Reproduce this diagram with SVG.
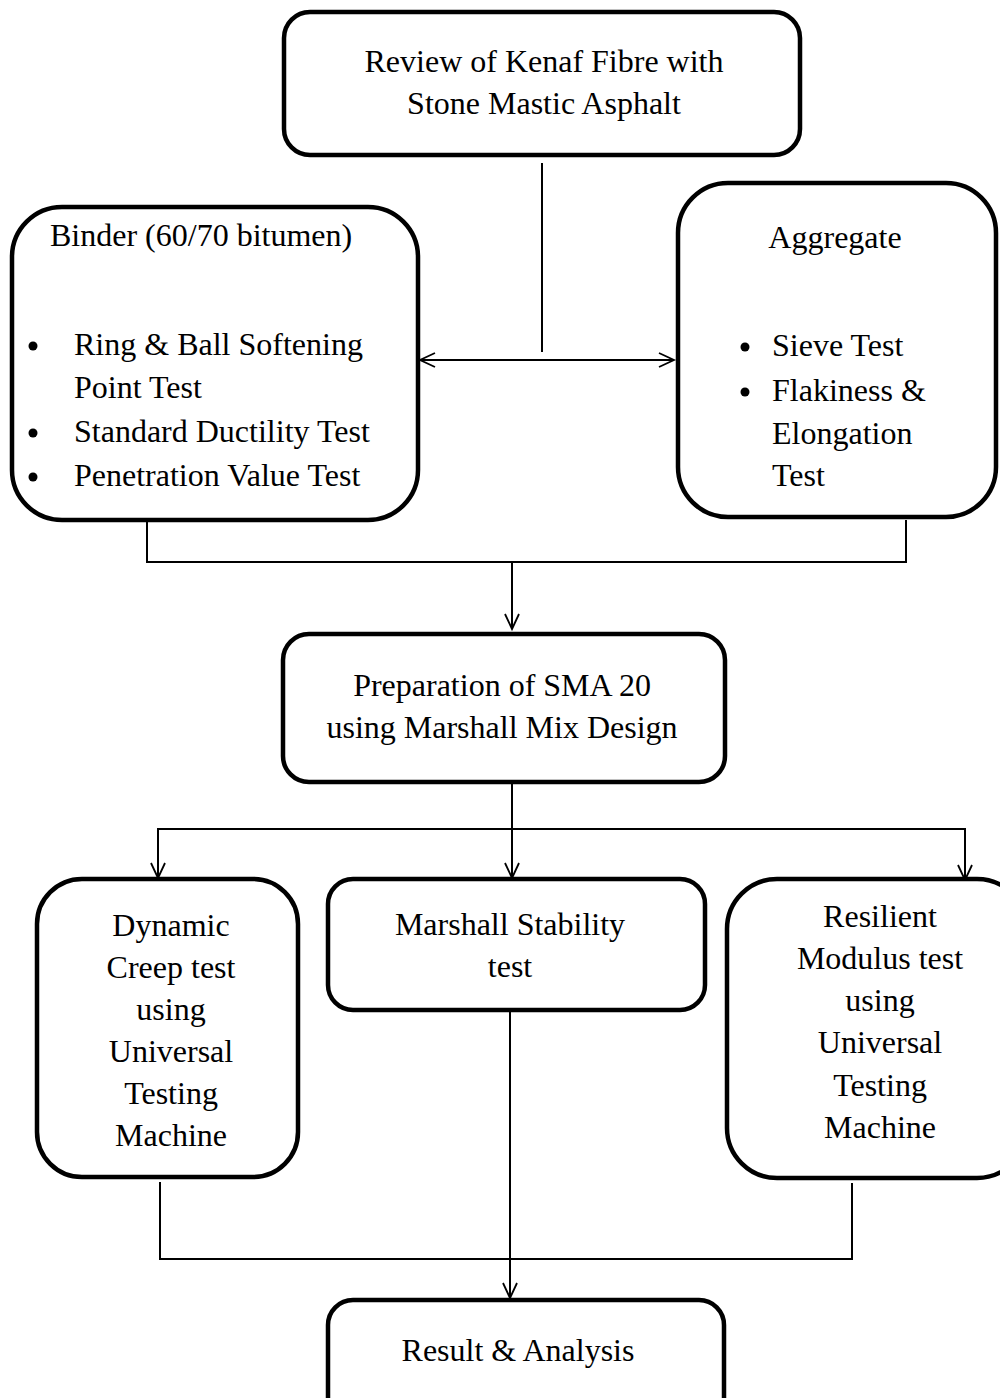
<svg xmlns="http://www.w3.org/2000/svg" width="1000" height="1398" viewBox="0 0 1000 1398">
<defs>
<marker id="ah" markerUnits="userSpaceOnUse" markerWidth="24" markerHeight="24" refX="16" refY="8" orient="auto-start-reverse" viewBox="0 0 24 16">
<path d="M1,1 L16,8 L1,15" fill="none" stroke="#000" stroke-width="1.8"/>
</marker>
</defs>
<style>
.box{fill:#fff;stroke:#000;stroke-width:4.5}
.t{font-family:"Liberation Serif","Times New Roman",serif;font-size:32px;fill:#000}
.c{text-anchor:middle}
.ln{fill:none;stroke:#000;stroke-width:2}
</style>
<rect width="1000" height="1398" fill="#fff"/>
<g id="connectors">
<line class="ln" x1="542" y1="163" x2="542" y2="352"/>
<line class="ln" x1="420" y1="360" x2="674" y2="360" marker-start="url(#ah)" marker-end="url(#ah)"/>
<polyline class="ln" points="147,522 147,562 906,562 906,520"/>
<line class="ln" x1="512" y1="562" x2="512" y2="629" marker-end="url(#ah)"/>
<line class="ln" x1="512" y1="784" x2="512" y2="878" marker-end="url(#ah)"/>
<polyline class="ln" points="158,878 158,829 965,829 965,878"/>
<line class="ln" x1="158" y1="850" x2="158" y2="878" marker-end="url(#ah)"/>
<line class="ln" x1="965" y1="850" x2="965" y2="880" marker-end="url(#ah)"/>
<polyline class="ln" points="160,1182 160,1259 852,1259 852,1183"/>
<line class="ln" x1="510" y1="1010" x2="510" y2="1298" marker-end="url(#ah)"/>
</g>
<g id="review">
<rect class="box" x="284" y="12" width="516" height="143" rx="26"/>
<text class="t c" x="544" y="72">Review of Kenaf Fibre with</text>
<text class="t c" x="544" y="114">Stone Mastic Asphalt</text>
</g>
<g id="binder">
<rect class="box" x="12" y="207" width="406" height="313" rx="50"/>
<text class="t" x="50" y="246">Binder (60/70 bitumen)</text>
<circle cx="33" cy="346" r="4.5"/>
<circle cx="33" cy="433" r="4.5"/>
<circle cx="33" cy="477" r="4.5"/>
<text class="t" x="74" y="355">Ring &amp; Ball Softening</text>
<text class="t" x="74" y="398">Point Test</text>
<text class="t" x="74" y="442">Standard Ductility Test</text>
<text class="t" x="74" y="486">Penetration Value Test</text>
</g>
<g id="aggregate">
<rect class="box" x="678" y="183" width="318" height="334" rx="50"/>
<text class="t c" x="835" y="248">Aggregate</text>
<circle cx="745" cy="347" r="4.5"/>
<circle cx="745" cy="392" r="4.5"/>
<text class="t" x="772" y="356">Sieve Test</text>
<text class="t" x="772" y="401">Flakiness &amp;</text>
<text class="t" x="772" y="444">Elongation</text>
<text class="t" x="772" y="486">Test</text>
</g>
<g id="preparation">
<rect class="box" x="283" y="634" width="442" height="148" rx="26"/>
<text class="t c" x="502" y="696">Preparation of SMA 20</text>
<text class="t c" x="502" y="738">using Marshall Mix Design</text>
</g>
<g id="dynamic">
<rect class="box" x="37" y="879" width="261" height="298" rx="45"/>
<text class="t c" x="171" y="936">Dynamic</text>
<text class="t c" x="171" y="978">Creep test</text>
<text class="t c" x="171" y="1020">using</text>
<text class="t c" x="171" y="1062">Universal</text>
<text class="t c" x="171" y="1104">Testing</text>
<text class="t c" x="171" y="1146">Machine</text>
</g>
<g id="marshall">
<rect class="box" x="328" y="879" width="377" height="131" rx="25"/>
<text class="t c" x="510" y="935">Marshall Stability</text>
<text class="t c" x="510" y="977">test</text>
</g>
<g id="resilient">
<rect class="box" x="727" y="879" width="300" height="299" rx="50"/>
<text class="t c" x="880" y="927">Resilient</text>
<text class="t c" x="880" y="969">Modulus test</text>
<text class="t c" x="880" y="1011">using</text>
<text class="t c" x="880" y="1053">Universal</text>
<text class="t c" x="880" y="1096">Testing</text>
<text class="t c" x="880" y="1138">Machine</text>
</g>
<g id="result">
<rect class="box" x="328" y="1300" width="396" height="130" rx="25"/>
<text class="t c" x="518" y="1361">Result &amp; Analysis</text>
</g>
</svg>
